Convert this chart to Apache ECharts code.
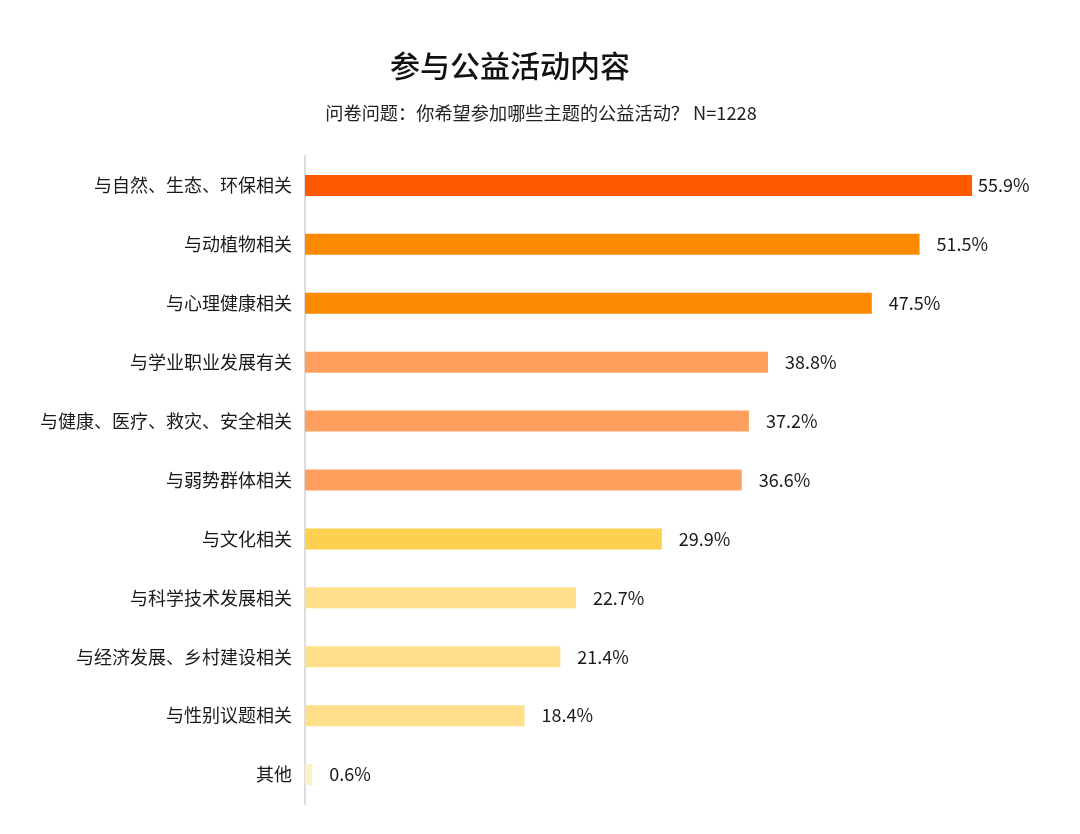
<!DOCTYPE html>
<html><head><meta charset="utf-8">
<script src="https://cdn.jsdelivr.net/npm/echarts@6/dist/echarts.min.js"></script>
<style>html,body{margin:0;padding:0;background:#fff}#c{width:1080px;height:834px}</style>
</head><body><div id="c"></div>
<script>
const categories = ['与自然、生态、环保相关','与动植物相关','与心理健康相关','与学业职业发展有关','与健康、医疗、救灾、安全相关','与弱势群体相关','与文化相关','与科学技术发展相关','与经济发展、乡村建设相关','与性别议题相关','其他'];
const values = [55.9, 51.5, 47.5, 38.8, 37.2, 36.6, 29.9, 22.7, 21.4, 18.4, 0.6];
const colors = ['#FF5A00','#FB8A00','#FB8A00','#FFA05E','#FFA05E','#FFA05E','#FDD04F','#FFDF8A','#FFDF8A','#FFDF8A','#FBF1C6'];
const font = '"Noto Sans CJK SC","Noto Sans",sans-serif';
const chart = echarts.init(document.getElementById('c'));
chart.setOption({
  backgroundColor:'#fff',
  title:[
    {text:'参与公益活动内容',left:505,top:46,textAlign:'center',textStyle:{fontFamily:font,fontSize:30,fontWeight:500,color:'#111'}},
    {text:'问卷问题：你希望参加哪些主题的公益活动？ N=1228',left:536,top:99,textAlign:'center',textStyle:{fontFamily:font,fontSize:18.2,fontWeight:'normal',color:'#222'}}
  ],
  grid:{left:305,right:59,top:156,bottom:30,containLabel:false},
  xAxis:{type:'value',min:0,max:60,show:false},
  yAxis:{type:'category',data:categories,inverse:true,
    axisLine:{show:true,lineStyle:{color:'#dcdcdc',width:2}},
    axisTick:{show:false},
    axisLabel:{fontFamily:font,fontSize:18,color:'#1a1a1a',margin:13}},
  series:[{type:'bar',barWidth:21,
    data:values.map((v,i)=>({value:v,itemStyle:{color:colors[i]},label:{distance:i===0?6:17}})),
    label:{show:true,position:'right',distance:17,formatter:p=>p.value.toFixed(1)+'%',fontFamily:font,fontSize:18,color:'#1a1a1a'}
  }]
});
</script></body></html>
